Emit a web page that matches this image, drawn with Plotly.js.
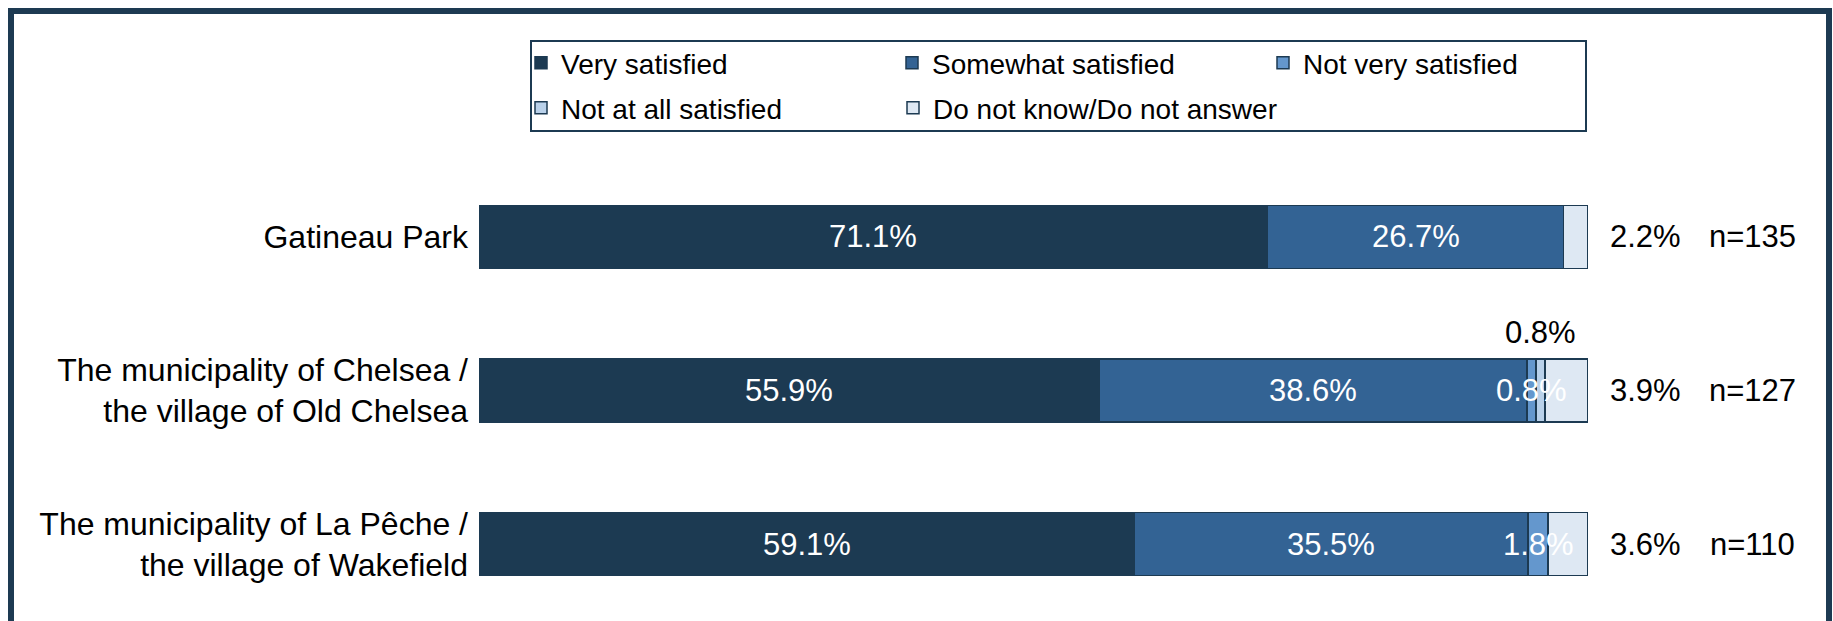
<!DOCTYPE html>
<html><head><meta charset="utf-8">
<script src="https://cdn.plot.ly/plotly-3.0.1.min.js"></script>
<style>
html,body{margin:0;padding:0;background:#fff;overflow:hidden;width:1833px;height:621px;}
#chart{position:absolute;left:0;top:0;width:1833px;height:621px;}
#frame{position:absolute;left:8px;top:8px;width:1824px;height:720px;border:6px solid #1d3a52;box-sizing:border-box;pointer-events:none;}
</style>
</head><body>
<div id="chart"></div><div id="frame"></div>
<script>
const categories = ["Gatineau Park",
  "The municipality of Chelsea /<br>the village of Old Chelsea",
  "The municipality of La Pêche /<br>the village of Wakefield"];
const seriesNames = ["Very satisfied", "Somewhat satisfied", "Not very satisfied",
  "Not at all satisfied", "Do not know/Do not answer"];
const verySatisfied = [71.1, 55.9, 59.1];
const somewhatSatisfied = [26.7, 38.6, 35.5];
const notVerySatisfied = [0, 0.8, 1.8];
const notAtAllSatisfied = [0, 0.8, 0];
const doNotKnow = [2.2, 3.9, 3.6];
const sampleSizes = ["n=135", "n=127", "n=110"];

const seriesValues = [verySatisfied, somewhatSatisfied, notVerySatisfied, notAtAllSatisfied, doNotKnow];
const colors = ["#1c3a52", "#336394", "#6497cd", "#b9d1ea", "#dee8f3"];
const legendRow = ["legend", "legend", "legend", "legend2", "legend3"];
const FONT = "Liberation Sans, Arial, sans-serif";

const traces = seriesValues.map((vals, i) => ({
  type: "bar", orientation: "h", name: seriesNames[i],
  x: vals, y: categories, legend: legendRow[i],
  marker: {color: colors[i], line: {color: "#1c3a52", width: 1.5}},
  hoverinfo: "skip"
}));

const fmt = v => v.toFixed(1) + "%";
const annotations = [];
categories.forEach((cat, j) => {
  let start = 0;
  seriesValues.forEach((vals, i) => {
    const v = vals[j];
    const mid = start + v / 2;
    if (v > 0) {
      if (i <= 2) {
        annotations.push({x: mid, y: cat, xref: "x", yref: "y", text: fmt(v), showarrow: false,
          font: {family: FONT, size: 31, color: "#ffffff"}});
      } else if (i === 3) {
        annotations.push({x: mid, y: cat, xref: "x", yref: "y", text: fmt(v), showarrow: false,
          yshift: 58, font: {family: FONT, size: 31, color: "#000000"}});
      } else {
        annotations.push({x: start + v, y: cat, xref: "x", yref: "y", text: fmt(v), showarrow: false,
          xanchor: "left", xshift: 20, font: {family: FONT, size: 31, color: "#000000"}});
      }
    }
    start += v;
  });
  annotations.push({x: start, y: cat, xref: "x", yref: "y", text: sampleSizes[j], showarrow: false,
    xanchor: "center", xshift: 164, font: {family: FONT, size: 31, color: "#000000"}});
});

// page geometry (pixels)
const W = 1833, H = 621, ML = 479, MR = 245, MT = 160, MB = 0;
const PW = W - ML - MR, PH = H - MT - MB;
const px2x = p => (p - ML) / PW;
const px2y = p => (H - MB - p) / PH;

const legendBase = {orientation: "h", xref: "container", yref: "container",
  x: 521 / W, xanchor: "left", yanchor: "middle",
  font: {family: FONT, size: 28, color: "#000000"},
  borderwidth: 0, bgcolor: "rgba(0,0,0,0)", traceorder: "normal"};

const layout = {
  width: W, height: H,
  margin: {l: ML, r: MR, t: MT, b: MB},
  paper_bgcolor: "#ffffff", plot_bgcolor: "#ffffff",
  barmode: "stack", bargap: 0.59,
  showlegend: true,
  legend: Object.assign({}, legendBase, {y: 1 - 63 / H, entrywidth: 326}),
  legend2: Object.assign({}, legendBase, {y: 1 - 108 / H}),
  legend3: Object.assign({}, legendBase, {y: 1 - 108 / H, x: (521 + 372) / W}),
  shapes: [{type: "rect", xref: "paper", yref: "paper",
    x0: px2x(531), x1: px2x(1586), y0: px2y(131), y1: px2y(41),
    line: {color: "#1c3a52", width: 2}, fillcolor: "rgba(0,0,0,0)", layer: "below"}],
  xaxis: {range: [0, 100], visible: false, fixedrange: true},
  yaxis: {type: "category", categoryorder: "array", categoryarray: categories,
    range: [2.5, -0.5], showgrid: false, zeroline: false, showline: false, ticks: "",
    ticklabelstandoff: 10,
    tickfont: {family: FONT, size: 32, color: "#000000"}},
  font: {family: FONT, color: "#000000"},
  annotations: annotations
};

Plotly.newPlot("chart", traces, layout, {displayModeBar: false, staticPlot: true});
</script>
</body></html>
